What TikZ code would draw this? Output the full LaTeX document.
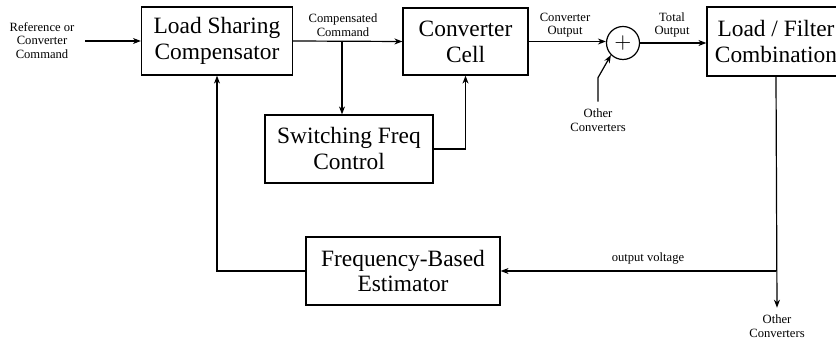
\documentclass[tikz,border=0pt]{standalone}
\usepackage{fontspec}
\setmainfont{Liberation Serif}
\usetikzlibrary{arrows.meta}

\tikzset{
    block/.style={draw, line width=0.6pt, align=center, inner sep=0pt,
        font=\fontsize{11.7}{13}\selectfont},
    summer/.style={draw, circle, line width=0.6pt, minimum size=16.5pt, inner sep=0pt,
        font=\fontsize{11}{11}\selectfont},
    tag/.style={align=center, font=\fontsize{6.3}{6.8}\selectfont},
    wire/.style={line width=0.6pt, -{Stealth[length=4pt, width=3pt]}}
}

\begin{document}
\begin{tikzpicture}[x=0.5pt, y=-0.5pt]
    % Frame of the picture
    \clip (0,0) rectangle (836,341);

    % Blocks
    \node [block, minimum width=75.5pt, minimum height=34pt] (lsc) at (217,41) {Load Sharing\\Compensator};
    \node [block, minimum width=62.5pt, minimum height=33.5pt] (cell) at (465.5,41.5) {Converter\\Cell};
    \node [summer] (sum) at (623,43) {$+$};
    \node [block, minimum width=69pt, minimum height=34.5pt] (load) at (776,41.5) {Load / Filter\\Combination};
    \node [block, minimum width=84pt, minimum height=34pt] (sfc) at (349,149) {Switching Freq\\Control};
    \node [block, minimum width=97pt, minimum height=34pt] (fbe) at (403,271) {Frequency-Based\\Estimator};

    % Labels
    \node [tag] (ref) at (42,40.5) {Reference or\\Converter\\Command};
    \node [tag] (cmd) at (343,25) {Compensated\\Command};
    \node [tag] (cout) at (565,25) {Converter\\Output};
    \node [tag] (tout) at (672,25) {Total\\Output};
    \node [tag] (oc1) at (598,120) {Other\\Converters};
    \node [tag] (oc2) at (777,326) {Other\\Converters};
    \node [tag] (vout) at (648,258) {output voltage};

    % Branch points
    \coordinate (refin) at (85,41);
    \coordinate (split) at (342,41);
    \coordinate (tap) at (load.south |- fbe.east);

    % Forward path
    \draw [wire] (refin) -- (lsc.west);
    \draw [wire] (lsc.east) -- (cell.west);
    \draw [wire] (split) -- (split |- sfc.north);
    \draw [wire] (sfc.east) -| (cell.south);
    \draw [wire] (cell.east) -- (cell.east -| sum.west);
    \draw [wire] (sum.east) -- (sum.east -| load.west);
    \draw [wire] (oc1.north) -- ++(0,-24) -- (sum.south west);

    % Feedback path
    \draw [wire] (load.south) -- (oc2.north);
    \draw [wire] (tap) -- (fbe.east);
    \draw [wire] (fbe.west) -| (lsc.south);

\end{tikzpicture}
\end{document}
